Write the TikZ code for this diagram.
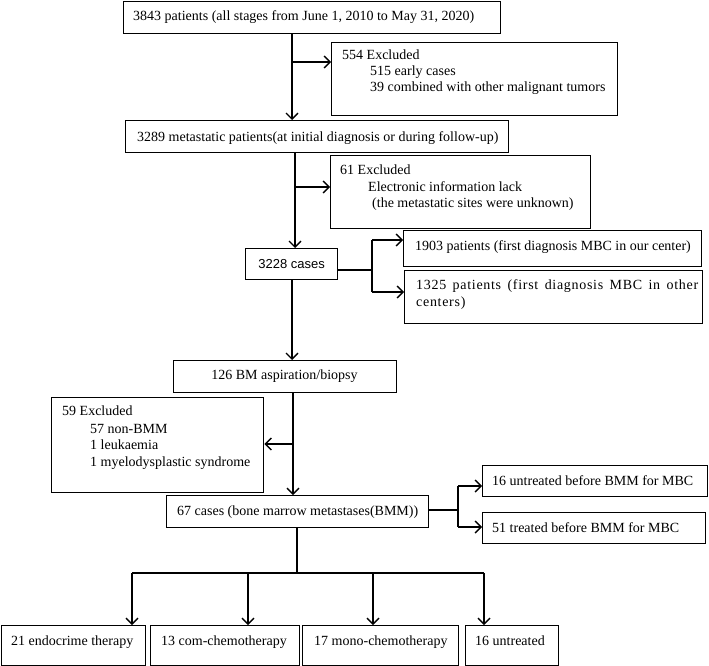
\documentclass[tikz,border=0pt]{standalone}
\usepackage{fontspec}
\setmainfont{Liberation Serif}
\newfontfamily\sansf{Liberation Sans}
\newfontfamily\spacedf[LetterSpace=5]{Liberation Serif}
\usetikzlibrary{arrows.meta}
\begin{document}
\begin{tikzpicture}[x=1pt,y=-1pt,
  box/.style={draw, line width=1.4pt, inner sep=0pt, anchor=north west},
  txt/.style={inner sep=0pt, anchor=base west, font=\fontsize{14}{16}\selectfont},
  ln/.style={line width=1.4pt},
  arr/.style={line width=1.4pt, -{Straight Barb[length=6pt,width=12pt]}},
  heavy/.style={line width=2.6pt}]
\useasboundingbox (0,0) rectangle (709,666);
% boxes
\node[box, minimum width=377pt, minimum height=32pt] (b1) at (123,1) {};
\node[box, minimum width=286pt, minimum height=73pt] (b554) at (331,42) {};
\node[box, minimum width=383pt, minimum height=32pt] (b2) at (125,120) {};
\node[box, minimum width=260pt, minimum height=73pt] (b61) at (330,155) {};
\node[box, minimum width=92pt, minimum height=31pt] (b3228) at (245,248) {};
\node[box, minimum width=298pt, minimum height=36pt] (b1903) at (403,230) {};
\node[box, minimum width=298pt, minimum height=53pt] (b1325) at (404,270) {};
\node[box, minimum width=223pt, minimum height=32pt] (b126) at (173,360) {};
\node[box, minimum width=212pt, minimum height=95pt] (b59) at (51,397) {};
\node[box, minimum width=262pt, minimum height=32pt] (b67) at (166,495) {};
\node[box, minimum width=225pt, minimum height=31pt] (bu16) at (482,465) {};
\node[box, minimum width=223pt, minimum height=31pt] (bt51) at (482,512) {};
\node[box, minimum width=144pt, minimum height=40pt] (c1) at (1,625) {};
\node[box, minimum width=149pt, minimum height=40pt] (c2) at (150,625) {};
\node[box, minimum width=156pt, minimum height=40pt] (c3) at (302,625) {};
\node[box, minimum width=93pt, minimum height=40pt] (c4) at (465,625) {};
% texts
\node[txt] (t1) at (133,21) {3843 patients (all stages from June 1, 2010 to May 31, 2020)};
\node[txt] (t554a) at (342,60) {554 Excluded};
\node[txt] (t554b) at (370,76) {515 early cases};
\node[txt] (t554c) at (370,92) {39 combined with other malignant tumors};
\node[txt] (t2) at (137,141) {3289 metastatic patients(at initial diagnosis or during follow-up)};
\node[txt] (t61a) at (340,174) {61 Excluded};
\node[txt] (t61b) at (368,191) {Electronic information lack};
\node[txt] (t61c) at (372,207) {(the metastatic sites were unknown)};
\node[inner sep=0pt, anchor=base, font=\sansf\fontsize{13}{15}\selectfont] (t3228) at (b3228.center |- 0,268.5) {3228 cases};
\node[txt] (t1903) at (415,250) {1903 patients (first diagnosis MBC in our center)};
\node[txt] (t1325a) at (416,289) {\spacedf\makebox[282pt][s]{1325 patients (first diagnosis MBC in other}};
\node[txt] (t1325b) at (416,306) {\spacedf centers)};
\node[txt, anchor=base] (t126) at (284.5,379) {126 BM aspiration/biopsy};
\node[txt] (t59a) at (62,415) {59 Excluded};
\node[txt] (t59b) at (90,433) {57 non-BMM};
\node[txt] (t59c) at (90,449) {1 leukaemia};
\node[txt] (t59d) at (90,466) {1 myelodysplastic syndrome};
\node[txt] (t67) at (177,515) {67 cases (bone marrow metastases(BMM))};
\node[txt] (tu16) at (492,485) {16 untreated before BMM for MBC};
\node[txt] (tt51) at (492,532) {51 treated before BMM for MBC};
\node[txt] (tc1) at (11,645) {21 endocrime therapy};
\node[txt] (tc2) at (161,645) {13 com-chemotherapy};
\node[txt] (tc3) at (314,645) {17 mono-chemotherapy};
\node[txt] (tc4) at (475,645) {16 untreated};
% junctions
\coordinate (j1) at (292,62);
\coordinate (j2) at (295,187);
\coordinate (j3) at (372,270);
\coordinate (j3t) at (372,240);
\coordinate (j3b) at (372,292);
\coordinate (j4) at (292,320);
\coordinate (j5) at (293,444);
\coordinate (j6) at (458,510);
\coordinate (j6t) at (458,486);
\coordinate (j6b) at (458,527);
\coordinate (j7) at (297,573);
\coordinate (k1) at (132,573);
\coordinate (k2) at (248,573);
\coordinate (k3) at (373,573);
\coordinate (k4) at (484,573);
% connectors
\draw[arr] (b1.south -| j1) -- (b2.north -| j1);
\draw[arr] (j1) -- (b554.west |- j1);
\draw[arr] (b2.south -| j2) -- (b3228.north -| j2);
\draw[arr] (j2) -- (b61.west |- j2);
\draw[heavy] (b3228.east |- j3) -- (j3);
\draw[ln] (j3t) -- (j3b);
\draw[arr] (j3t) -- (b1903.west |- j3t);
\draw[arr] (j3b) -- (b1325.west |- j3b);
\draw[arr] (b3228.south -| j4) -- (b126.north -| j4);
\draw[arr] (b126.south -| j5) -- (b67.north -| j5);
\draw[arr] (j5) -- (b59.east |- j5);
\draw[heavy] (b67.east |- j6) -- (j6);
\draw[ln] (j6t) -- (j6b);
\draw[arr] (j6t) -- (bu16.west |- j6t);
\draw[arr] (j6b) -- (bt51.west |- j6b);
\draw[ln] (b67.south -| j7) -- (j7);
\draw[ln] (k1) -- (k4);
\draw[arr] (k1) -- (c1.north -| k1);
\draw[arr] (k2) -- (c2.north -| k2);
\draw[arr] (k3) -- (c3.north -| k3);
\draw[arr] (k4) -- (c4.north -| k4);
\end{tikzpicture}
\end{document}
